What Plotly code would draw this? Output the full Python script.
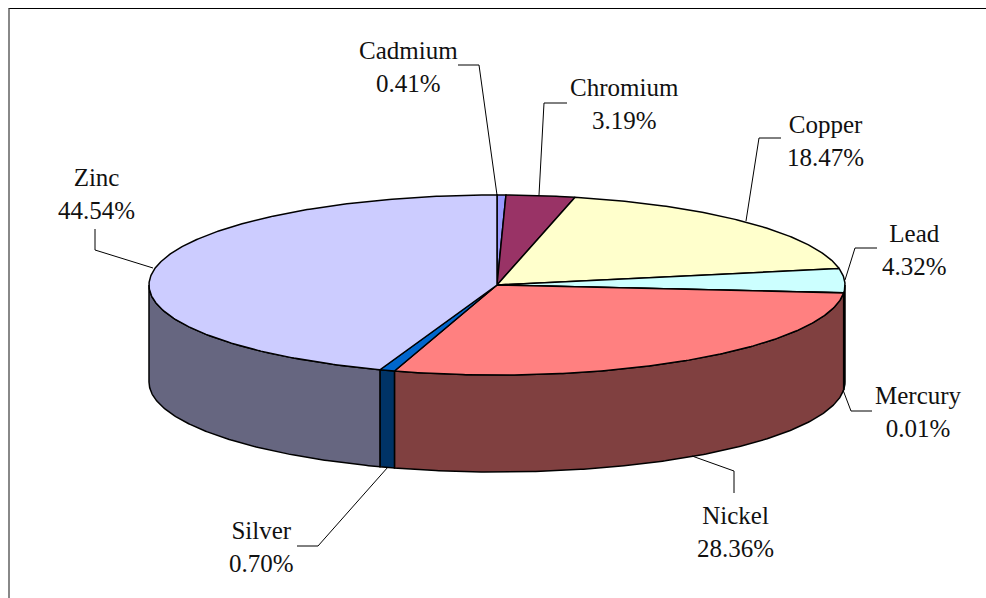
"""3D style pie of metal shares, drawn as filled polygons on pixel sized axes."""

import math

import plotly.graph_objects as go

metals = ["Cadmium", "Chromium", "Copper", "Lead", "Mercury", "Nickel", "Silver", "Zinc"]
shares = [0.41, 3.19, 18.47, 4.32, 0.01, 28.36, 0.70, 44.54]

top_colors = ["#9999FF", "#993366", "#FFFFCC", "#CCFFFF", "#660066", "#FF8080", "#0066CC", "#CCCCFF"]
side_colors = ["#4D4D80", "#4D1A33", "#808066", "#668080", "#330033", "#804040", "#003366", "#666680"]

# label centres and leader lines, in page pixels
label_pos = [(408, 67), (624, 104), (825, 141), (914, 250), (918, 412), (735, 532), (261, 547), (96, 194)]
leaders = [
    [(458, 65), (479, 65), (497, 195)],
    [(567, 103), (544, 103), (539, 195)],
    [(781, 138), (759, 138), (746, 221)],
    [(877, 248), (855, 248), (845, 280)],
    [(872, 411), (851, 411), (843, 390)],
    [(692, 456), (734, 471), (734, 493)],
    [(388, 467), (318, 546), (297, 546)],
    [(153, 268), (95, 250), (95, 229)],
]

CX, CY = 497, 285
RX, RY = 348, 90
DEPTH = 97
W, H = 986, 598


def ellipse_pts(a0, a1, dy=0):
    """Rim points from angle a0 to a1 (degrees clockwise from the top)."""
    n = max(2, int(abs(a1 - a0) * 2))
    xs, ys = [], []
    for i in range(n + 1):
        a = math.radians(a0 + (a1 - a0) * i / n)
        xs.append(CX + RX * math.sin(a))
        ys.append(CY - RY * math.cos(a) + dy)
    return xs, ys


fig = go.Figure()

# slice angles from the values
edges = [0]
for s in shares:
    edges.append(edges[-1] + s / sum(shares) * 360)

# side walls, only the front half of the rim shows
for i in range(len(metals)):
    a0, a1 = max(edges[i], 90), min(edges[i + 1], 270)
    if a1 <= a0:
        continue
    x_top, y_top = ellipse_pts(a0, a1)
    x_bot, y_bot = ellipse_pts(a1, a0, DEPTH)
    fig.add_trace(go.Scatter(
        x=x_top + x_bot + x_top[:1],
        y=y_top + y_bot + y_top[:1],
        mode="lines",
        fill="toself",
        fillcolor=side_colors[i],
        line=dict(color="black", width=1.5),
    ))

# top faces
for i in range(len(metals)):
    xs, ys = ellipse_pts(edges[i], edges[i + 1])
    fig.add_trace(go.Scatter(
        x=[CX] + xs + [CX],
        y=[CY] + ys + [CY],
        mode="lines",
        fill="toself",
        fillcolor=top_colors[i],
        line=dict(color="black", width=1.5),
    ))

# leader lines
for pts in leaders:
    fig.add_trace(go.Scatter(
        x=[p[0] for p in pts],
        y=[p[1] for p in pts],
        mode="lines",
        line=dict(color="black", width=1),
    ))

for name, val, pos in zip(metals, shares, label_pos):
    fig.add_annotation(
        x=pos[0], y=pos[1],
        text="{0}<br>{1:.2f}%".format(name, val),
        showarrow=False,
        font=dict(family="Liberation Serif", size=25, color="#111111"),
    )

# chart frame, only the top and left edges are in the picture
fig.add_shape(type="line", x0=8.5, y0=8.5, x1=W, y1=8.5,
              line=dict(color="black", width=1))
fig.add_shape(type="line", x0=9, y0=8.5, x1=9, y1=H,
              line=dict(color="#606060", width=1.5))

fig.update_layout(
    width=W,
    height=H,
    margin=dict(l=0, r=0, t=0, b=0),
    showlegend=False,
    hovermode=False,
    plot_bgcolor="white",
    paper_bgcolor="white",
    xaxis=dict(range=[0, W], visible=False, fixedrange=True),
    yaxis=dict(range=[H, 0], visible=False, fixedrange=True),
)

fig.write_html("out.html", config=dict(displayModeBar=False),
               post_script="document.body.style.margin = '0';")
